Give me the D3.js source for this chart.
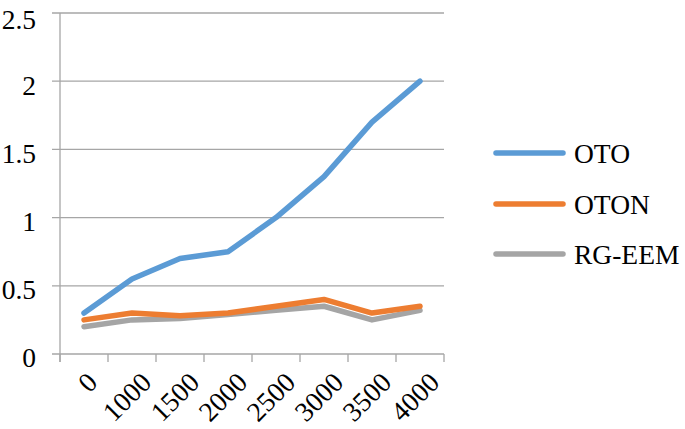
<!DOCTYPE html>
<html><head><meta charset="utf-8">
<script src="https://cdn.jsdelivr.net/npm/d3@7"></script>
<style>body{margin:0;background:#fff;}text{font-family:"Liberation Serif","Times New Roman","DejaVu Serif",serif;}</style>
</head><body><svg id="c" width="685" height="429"></svg>
<script>
const categories = ["0","1000","1500","2000","2500","3000","3500","4000"];
const seriesNames = ["OTO","OTON","RG-EEM"];
const oto = [0.3,0.55,0.7,0.75,1.0,1.3,1.7,2.0];
const oton = [0.25,0.3,0.28,0.3,0.35,0.4,0.3,0.35];
const rgeem = [0.2,0.25,0.26,0.29,0.32,0.35,0.25,0.32];
const yTicks = [0,0.5,1,1.5,2,2.5];
const colors = ["#5b9bd5","#ed7d31","#a5a5a5"];
const series = [oto,oton,rgeem];
const FONT = "'Liberation Serif','Times New Roman','DejaVu Serif',serif";
const FS = 27.5;

const svg = d3.select("#c");
const x = d3.scaleBand().domain(categories).range([60,444]);
const y = d3.scaleLinear().domain([0,2.5]).range([354,13]);
const grid = "#a6a6a6";

svg.append("g").selectAll("line").data(yTicks).join("line")
  .attr("x1",52).attr("x2",444).attr("y1",d=>y(d)).attr("y2",d=>y(d))
  .attr("stroke",grid).attr("stroke-width",1.3);
svg.append("line").attr("x1",60).attr("x2",60).attr("y1",y(2.5)).attr("y2",362)
  .attr("stroke",grid).attr("stroke-width",1.3);
const bounds = categories.map(c=>x(c)).concat([x.range()[1]]);
svg.append("g").selectAll("line").data(bounds).join("line")
  .attr("x1",d=>d).attr("x2",d=>d).attr("y1",354).attr("y2",362)
  .attr("stroke",grid).attr("stroke-width",1.3);
svg.append("g").selectAll("text").data(yTicks).join("text")
  .attr("x",36).attr("y",d=>Math.max(y(d)+4,20)).attr("dy","0.34em").attr("text-anchor","end")
  .attr("font-family",FONT).attr("font-size",FS).attr("fill","#000").text(d=>d);
svg.append("g").selectAll("text").data(categories).join("text")
  .attr("text-anchor","end").attr("font-family",FONT).attr("font-size",FS).attr("fill","#000")
  .attr("transform",d=>`translate(${x(d)+x.bandwidth()/2+15+2*(d.length-1)},${384}) rotate(-45)`)
  .text(d=>d);
const line = d3.line().x((d,i)=>x(categories[i])+x.bandwidth()/2).y(d=>y(d));
[2,1,0].forEach(k=>{
  svg.append("path").datum(series[k]).attr("d",line).attr("fill","none")
    .attr("stroke",colors[k]).attr("stroke-width",5.5).attr("stroke-linejoin","round").attr("stroke-linecap","round");
});
const ly = [153,204,254];
seriesNames.forEach((n,i)=>{
  svg.append("line").attr("x1",496).attr("x2",563).attr("y1",ly[i]).attr("y2",ly[i])
    .attr("stroke",colors[i]).attr("stroke-width",5.5).attr("stroke-linecap","round");
  svg.append("text").attr("x",574).attr("y",ly[i]).attr("dy","0.35em")
    .attr("font-family",FONT).attr("font-size",FS).attr("fill","#000").text(n);
});
</script></body></html>
